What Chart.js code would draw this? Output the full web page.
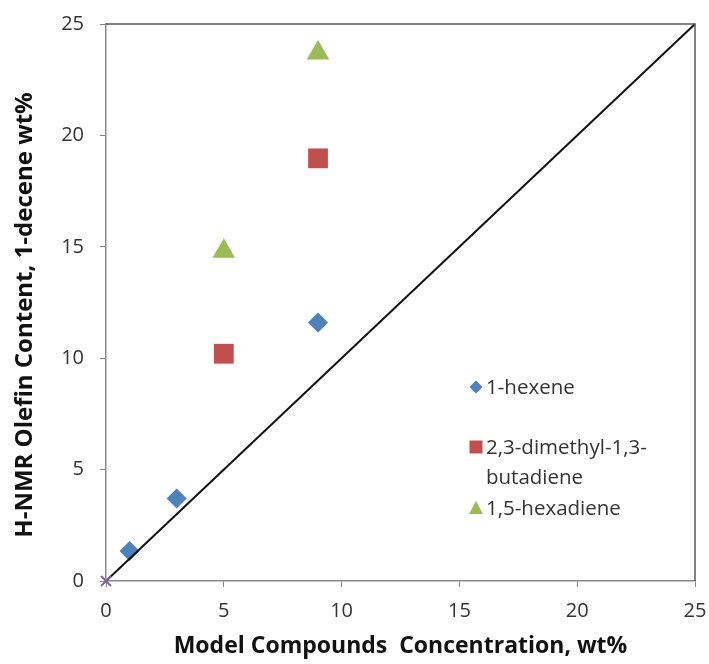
<!DOCTYPE html>
<html>
<head>
<meta charset="utf-8">
<script src="https://cdn.jsdelivr.net/npm/chart.js@4"></script>
<style>
  html, body { margin: 0; padding: 0; background: #fff; }
  #wrap { width: 709px; height: 664px; }
</style>
</head>
<body>
<div id="wrap"><canvas id="olefinChart" width="709" height="664"></canvas></div>
<script>
// values
const hexeneX = [1, 3, 9];
const hexeneY = [1.35, 3.7, 11.6];
const dimethylX = [5, 9];
const dimethylY = [10.2, 18.97];
const hexadieneX = [5, 9];
const hexadieneY = [14.8, 23.7];
const parityX = [0, 25];
const parityY = [0, 25];
const axisTicks = [0, 5, 10, 15, 20, 25];

const legendLabels = [['1-hexene'], ['2,3-dimethyl-1,3-', 'butadiene'], ['1,5-hexadiene']];
const yTitle = 'H-NMR Olefin Content, 1-decene wt%';

const FONT = "'Open Sans', 'Noto Sans', sans-serif";

function pts(xs, ys) {
    return xs.map((x, i) => ({ x: x, y: ys[i] }));
}

// frame on top and right, y title (sits a bit below centre in the original), in-plot legend
const framePlugin = {
    id: 'frameAndLegend',
    afterDraw(chart) {
        const ctx = chart.ctx;
        const a = chart.chartArea;
        ctx.save();
        ctx.strokeStyle = '#5a5a5a';
        ctx.lineWidth = 1.5;
        ctx.beginPath();
        ctx.moveTo(a.left, a.top);
        ctx.lineTo(a.right, a.top);
        ctx.lineTo(a.right, a.bottom);
        ctx.stroke();

        ctx.save();
        ctx.translate(25, 315);
        ctx.rotate(-Math.PI / 2);
        ctx.font = 'bold 24px ' + FONT;
        ctx.fillStyle = '#111';
        ctx.textAlign = 'center';
        ctx.textBaseline = 'middle';
        ctx.fillText(yTitle, 0, 0);
        ctx.restore();

        const mx = a.left + 370;
        const tx = mx + 10;
        const rows = [a.top + 363, a.top + 423, a.top + 484];
        ctx.textBaseline = 'middle';

        // diamond
        let y = rows[0];
        ctx.fillStyle = '#4F81BD';
        ctx.beginPath();
        ctx.moveTo(mx, y - 6.5); ctx.lineTo(mx + 6.5, y); ctx.lineTo(mx, y + 6.5); ctx.lineTo(mx - 6.5, y);
        ctx.closePath(); ctx.fill();
        // square
        y = rows[1];
        ctx.fillStyle = '#C0504D';
        ctx.fillRect(mx - 6.5, y - 6.5, 13, 13);
        // triangle
        y = rows[2];
        ctx.fillStyle = '#9BBB59';
        ctx.beginPath();
        ctx.moveTo(mx, y - 7); ctx.lineTo(mx + 7, y + 6); ctx.lineTo(mx - 7, y + 6);
        ctx.closePath(); ctx.fill();

        ctx.font = '20.5px ' + FONT;
        ctx.fillStyle = '#333';
        legendLabels.forEach((lines, i) => {
            lines.forEach((t, j) => ctx.fillText(t, tx, rows[i] + 1 + j * 30));
        });
        ctx.restore();
    }
};

const ctx = document.getElementById('olefinChart').getContext('2d');
const olefinChart = new Chart(ctx, {
    type: 'scatter',
    data: {
        datasets: [
            {
                label: 'y = x',
                type: 'line',
                data: pts(parityX, parityY),
                borderColor: '#111',
                borderWidth: 2,
                pointStyle: 'crossRot',
                pointRadius: [7, 0],
                pointBorderColor: '#8064A2',
                pointBorderWidth: 2,
                fill: false,
                clip: false,
                order: 0
            },
            {
                label: '1-hexene',
                data: pts(hexeneX, hexeneY),
                pointStyle: 'rectRot',
                pointRadius: 10,
                backgroundColor: '#4F81BD',
                borderColor: '#4F81BD',
                borderWidth: 0
            },
            {
                label: '2,3-dimethyl-1,3-butadiene',
                data: pts(dimethylX, dimethylY),
                pointStyle: 'rect',
                pointRadius: 14,
                backgroundColor: '#C0504D',
                borderColor: '#C0504D',
                borderWidth: 0
            },
            {
                label: '1,5-hexadiene',
                data: pts(hexadieneX, hexadieneY),
                pointStyle: 'triangle',
                pointRadius: 13,
                backgroundColor: '#9BBB59',
                borderColor: '#9BBB59',
                borderWidth: 0
            }
        ]
    },
    options: {
        responsive: false,
        animation: false,
        layout: { padding: { top: 24, right: 14, left: 0, bottom: 0 } },
        plugins: {
            legend: { display: false },
            tooltip: { enabled: false }
        },
        scales: {
            x: {
                type: 'linear',
                min: 0,
                max: 25,
                afterBuildTicks: (s) => { s.ticks = axisTicks.map(v => ({ value: v })); },
                afterFit: (s) => { s.height = 83; s.paddingRight = 0; s.paddingLeft = 0; },
                border: { color: '#888', width: 1.5 },
                grid: { display: true, drawOnChartArea: false, drawTicks: true, tickLength: 6, color: '#888' },
                ticks: { color: '#333', padding: 12, font: { family: FONT, size: 20 } },
                title: {
                    display: true,
                    text: 'Model Compounds  Concentration, wt%',
                    color: '#111',
                    padding: { top: 0 },
                    font: { family: FONT, size: 23, weight: 'bold' }
                }
            },
            y: {
                type: 'linear',
                min: 0,
                max: 25,
                afterBuildTicks: (s) => { s.ticks = axisTicks.map(v => ({ value: v })); },
                afterFit: (s) => { s.width = 106; s.paddingTop = 0; s.paddingBottom = 0; },
                border: { color: '#888', width: 1.5 },
                grid: { display: true, drawOnChartArea: false, drawTicks: true, tickLength: 6, color: '#888' },
                ticks: { color: '#333', padding: 16, font: { family: FONT, size: 20 } },
                title: { display: false }
            }
        }
    },
    plugins: [framePlugin]
});
</script>
</body>
</html>
